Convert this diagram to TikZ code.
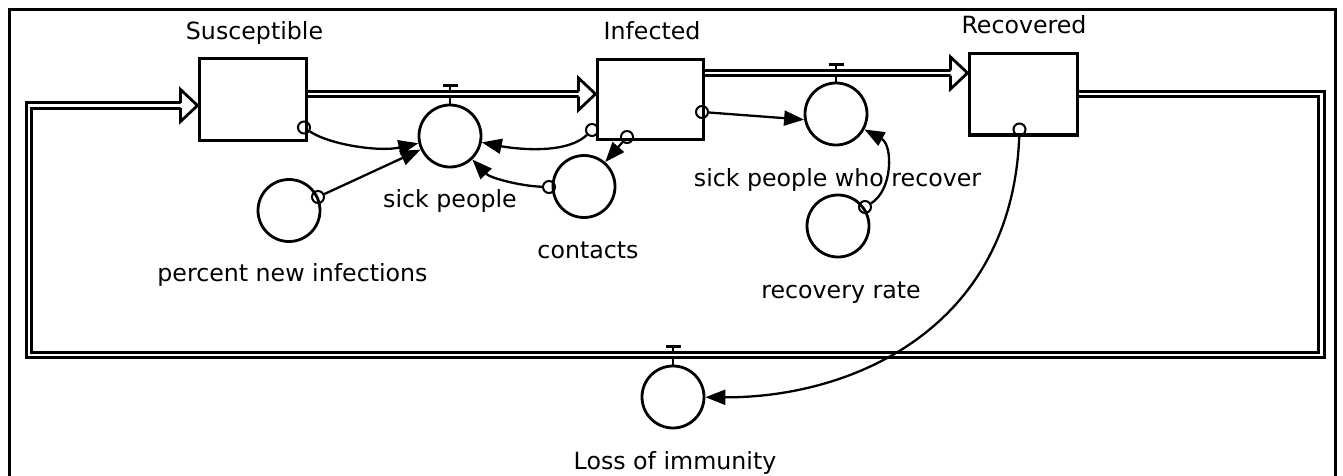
\documentclass[tikz,border=0pt]{standalone}
\usepackage{fontspec}
\setmainfont{DejaVu Sans}
\usetikzlibrary{arrows.meta,calc}
\tikzset{
  flowhead/.pic={
    \fill[white] (-17,-16) -- (0,0) -- (-17,16) -- cycle;
    \draw[line width=2.8pt,line join=miter] (-17,-2.6) -- (-17,-16) -- (0,0) -- (-17,16) -- (-17,2.6);
  }
}
\begin{document}
\begin{tikzpicture}[x=1pt,y=-1pt,
  every node/.style={font=\fontsize{23.7}{28}\selectfont},
  stock/.style={draw,line width=3pt,rectangle,inner sep=0pt,minimum width=107pt,minimum height=81pt},
  aux/.style={draw,line width=2.8pt,circle,inner sep=0pt,minimum size=62pt},
  srcdot/.style={draw,line width=2pt,circle,inner sep=0pt,minimum size=12pt},
  pipe/.style={line width=3pt,double=white,double distance=2.4pt,line join=miter},
  link/.style={line width=2.3pt,-{Triangle[length=20pt,width=15pt]}},
  lbl/.style={anchor=base,inner sep=0pt},
  valve/.style={line width=2.5pt}
]
\useasboundingbox (0,0) rectangle (1343,476);
% frame
\draw[line width=3pt] (9.7,476) -- (9.7,9.7) -- (1335.5,9.7) -- (1335.5,476);

% stocks
\node[stock] (sus) at (252.5,99.5) {};
\node[stock,minimum width=106pt,minimum height=79pt] (inf) at (650,99.5) {};
\node[stock,minimum width=108pt] (rec) at (1023,94.5) {};
\node[lbl] (lsus) at (254.5,40) {Susceptible};
\node[lbl] (linf) at (652,40) {Infected};
\node[lbl] (lrec) at (1024,34) {Recovered};

% converters / flows
\node[aux] (sp) at (450,136) {};
\node[aux] (ssr) at (836,114) {};
\node[aux] (loi) at (673,397) {};
\node[aux] (pni) at (289,210.5) {};
\node[aux] (con) at (584,186.5) {};
\node[aux] (rr) at (838,226) {};
\node[lbl] (lsp) at (450,207) {sick people};
\node[lbl] (lssr) at (837.5,186) {sick people who recover};
\node[lbl] (lloi) at (675,469) {Loss of immunity};
\node[lbl] (lpni) at (292.5,281) {percent new infections};
\node[lbl] (lcon) at (588,258) {contacts};
\node[lbl] (lrr) at (841,298) {recovery rate};

% pipe levels
\coordinate (f1) at (0,94);
\coordinate (f2) at (0,73);
\coordinate (f3) at (0,105.5);
\coordinate (c1) at (1321.5,355);
\coordinate (c2) at (29,355);

% valve stems
\draw[valve] (sp.north) -- (sp.north |- f1);
\draw[valve] (ssr.north) -- (ssr.north |- f2);
\draw[valve] (loi.north) -- (loi.north |- c1);

% pipes
\draw[pipe] (sus.east |- f1) -- ($(inf.west |- f1)+(-17,0)$);
\pic at (inf.west |- f1) {flowhead};
\draw[pipe] (inf.east |- f2) -- ($(rec.west |- f2)+(-17,0)$);
\pic at (rec.west |- f2) {flowhead};
\draw[pipe] (rec.east |- f1) -- (c1 |- f1) -- (c1) -- (c2) -- (c2 |- f3) -- ($(sus.west |- f3)+(-17,0)$);
\pic at (sus.west |- f3) {flowhead};

% valve T tops
\draw[valve] (sp.north |- f1) ++(0,-4) -- ++(0,-4.5) ++(-7.5,0) -- ++(15,0);
\draw[valve] (ssr.north |- f2) ++(0,-4) -- ++(0,-4.5) ++(-7.5,0) -- ++(15,0);
\draw[valve] (loi.north |- c1) ++(0,-4) -- ++(0,-4.5) ++(-7.5,0) -- ++(15,0);

% connector origins
\node[srcdot] (d1) at (304,127.5) {};
\node[srcdot] (d2) at (318,197) {};
\node[srcdot] (d3) at (592,130) {};
\node[srcdot] (d4) at (627,137) {};
\node[srcdot] (d5) at (549,187) {};
\node[srcdot] (d6) at (702,112) {};
\node[srcdot] (d7) at (865,207) {};
\node[srcdot] (d8) at (1019.5,129.5) {};

% connectors
\draw[link] (d1) .. controls (330,145) and (380,152) .. (sp);
\draw[link] (d2) -- (sp);
\draw[link] (d3) .. controls (565,156) and (510,148) .. (sp);
\draw[link] (d4) -- (con);
\draw[link] (d5) .. controls (520,186) and (490,178) .. (sp);
\draw[link] (d6) -- (ssr.190);
\draw[link] (d7) .. controls (893,190) and (893,145) .. (ssr);
\draw[link] (d8) .. controls (1012,330) and (850,398) .. (loi);
\end{tikzpicture}
\end{document}
